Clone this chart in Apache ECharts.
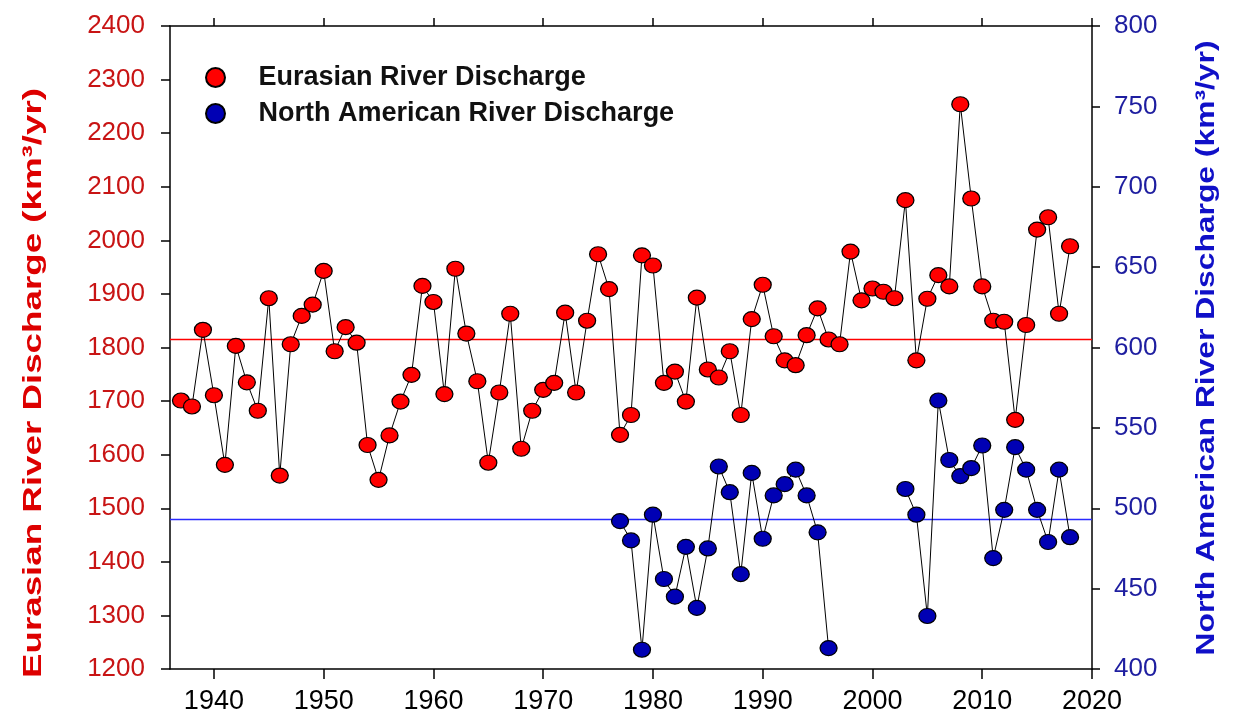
<!DOCTYPE html>
<html>
<head>
<meta charset="utf-8">
<script src="https://cdn.jsdelivr.net/npm/echarts@6/dist/echarts.min.js"></script>
<style>
html,body{margin:0;padding:0;background:#fff;}
#chart{width:1233px;height:723px;}
</style>
</head>
<body>
<div id="chart"></div>
<script>
// ---- data ----
const euYears = [1937,1938,1939,1940,1941,1942,1943,1944,1945,1946,1947,1948,1949,1950,1951,1952,1953,1954,1955,1956,1957,1958,1959,1960,1961,1962,1963,1964,1965,1966,1967,1968,1969,1970,1971,1972,1973,1974,1975,1976,1977,1978,1979,1980,1981,1982,1983,1984,1985,1986,1987,1988,1989,1990,1991,1992,1993,1994,1995,1996,1997,1998,1999,2000,2001,2002,2003,2004,2005,2006,2007,2008,2009,2010,2011,2012,2013,2014,2015,2016,2017,2018];
const euValues = [1701,1690,1833,1711,1581,1803,1735,1682,1892,1561,1806,1859,1880,1943,1793,1838,1809,1618,1553,1636,1699,1749,1915,1885,1713,1947,1826,1737,1585,1716,1863,1611,1682,1721,1734,1865,1716,1850,1974,1909,1637,1674,1972,1953,1734,1755,1699,1893,1759,1744,1793,1674,1853,1917,1821,1776,1767,1823,1873,1815,1806,1979,1888,1910,1904,1892,2075,1776,1891,1935,1914,2254,2078,1914,1850,1848,1665,1842,2020,2043,1863,1989];
const naYears = [1977,1978,1979,1980,1981,1982,1983,1984,1985,1986,1987,1988,1989,1990,1991,1992,1993,1994,1995,1996,1997,1998,1999,2000,2001,2002,2003,2004,2005,2006,2007,2008,2009,2010,2011,2012,2013,2014,2015,2016,2017,2018];
const naValues = [492,480,412,496,456,445,476,438,475,526,510,459,522,481,508,515,524,508,485,413,null,null,null,null,null,null,512,496,433,567,530,520,525,539,469,499,538,524,499,479,524,482];
const euMean = 1815;
const naMean = 493;
const xRange = [1936, 2020];
const xTicks = [1940,1950,1960,1970,1980,1990,2000,2010,2020];
const seriesNames = ['Eurasian River Discharge','North American River Discharge'];
const leftName = 'Eurasian River Discharge (km³/yr)';
const rightName = 'North American River Discharge (km³/yr)';

const FONT = "'Liberation Sans', Arial, sans-serif";
const RED = '#ff0000';
const BLUE = '#0000b4';

const chart = echarts.init(document.getElementById('chart'), null, {renderer:'canvas'});

function fitScale(text, font, target){
  const c = document.createElement('canvas').getContext('2d');
  c.font = font;
  return target / c.measureText(text).width;
}
const nameFont = "bold 26px 'Liberation Sans', Arial, sans-serif";
const leftScale = fitScale(leftName, nameFont, 590);
const rightScale = fitScale(rightName, nameFont, 615);

const euData = euYears.map((y,i)=>[y, euValues[i]]);
const naData = naYears.map((y,i)=>[y, naValues[i]===null ? '-' : naValues[i]]);
const euMeanData = xRange.map(x=>[x, euMean]);
const naMeanData = xRange.map(x=>[x, naMean]);

const axisLine = {show:true, onZero:false, lineStyle:{color:'#000', width:1.5}};

chart.setOption({
  animation:false,
  backgroundColor:'#fff',
  grid:{left:170, right:141, top:26, bottom:54, show:false},
  legend:{
    orient:'vertical', left:200, top:59,
    itemWidth:22, itemHeight:19, itemGap:9,
    icon:'circle',
    selectedMode:false,
    textStyle:{fontFamily:FONT, fontSize:27, fontWeight:'bold', color:'#111', lineHeight:27, padding:[0,0,0,27]},
    data:seriesNames
  },
  xAxis:[{
    type:'value', min:xRange[0], max:xRange[1],
    position:'bottom',
    axisLine:axisLine,
    axisTick:{show:true, inside:false, length:10, customValues:xTicks, lineStyle:{color:'#000', width:1.5}},
    axisLabel:{fontFamily:FONT, fontSize:27, color:'#000', margin:19, customValues:xTicks, formatter:v=>String(v)},
    splitLine:{show:false}
  },{
    type:'value', min:xRange[0], max:xRange[1],
    position:'top',
    axisLine:axisLine,
    axisTick:{show:true, inside:false, length:8, customValues:xTicks, lineStyle:{color:'#000', width:1.5}},
    axisLabel:{show:false},
    splitLine:{show:false}
  }],
  yAxis:[{
    type:'value', min:1200, max:2400, interval:100,
    position:'left',
    axisLine:axisLine,
    axisTick:{show:true, inside:false, length:9, lineStyle:{color:'#000', width:1.5}},
    axisLabel:{fontFamily:FONT, fontSize:26, color:'#c81414', margin:25, formatter:v=>String(v)},
    splitLine:{show:false}
  },{
    type:'value', min:400, max:800, interval:50,
    position:'right',
    axisLine:axisLine,
    axisTick:{show:true, inside:false, length:8, lineStyle:{color:'#000', width:1.5}},
    axisLabel:{fontFamily:FONT, fontSize:26, color:'#1e1ea0', margin:22, formatter:v=>String(v)},
    splitLine:{show:false}
  }],
  graphic:[{
    type:'text', x:34, y:383, rotation:Math.PI/2, scaleX:leftScale, scaleY:1,
    style:{text:leftName, font:nameFont, fill:'#dd0000', align:'center', verticalAlign:'middle'}
  },{
    type:'text', x:1207, y:348, rotation:Math.PI/2, scaleX:rightScale, scaleY:1,
    style:{text:rightName, font:nameFont, fill:'#1010c8', align:'center', verticalAlign:'middle'}
  }],
  series:[{
    name:'euMean', type:'line', xAxisIndex:0, yAxisIndex:0,
    data:euMeanData, symbol:'none', silent:true,
    color:RED,
    itemStyle:{color:RED},
    lineStyle:{color:RED, width:1.4, opacity:1}, z:1
  },{
    name:'naMean', type:'line', xAxisIndex:0, yAxisIndex:1,
    data:naMeanData, symbol:'none', silent:true,
    color:'#2a2aff',
    itemStyle:{color:'#2a2aff'},
    lineStyle:{color:'#2a2aff', width:1.4, opacity:1}, z:1
  },{
    name:seriesNames[0], type:'line', xAxisIndex:0, yAxisIndex:0,
    data:euData,
    symbol:'circle', symbolSize:[17,15],
    itemStyle:{color:RED, borderColor:'#000', borderWidth:1.2},
    lineStyle:{color:'#000', width:1},
    z:3
  },{
    name:seriesNames[1], type:'line', xAxisIndex:0, yAxisIndex:1,
    data:naData, connectNulls:false,
    symbol:'circle', symbolSize:[17,15],
    itemStyle:{color:BLUE, borderColor:'#000', borderWidth:1.2},
    lineStyle:{color:'#000', width:1},
    z:3
  }]
});
</script>
</body>
</html>
